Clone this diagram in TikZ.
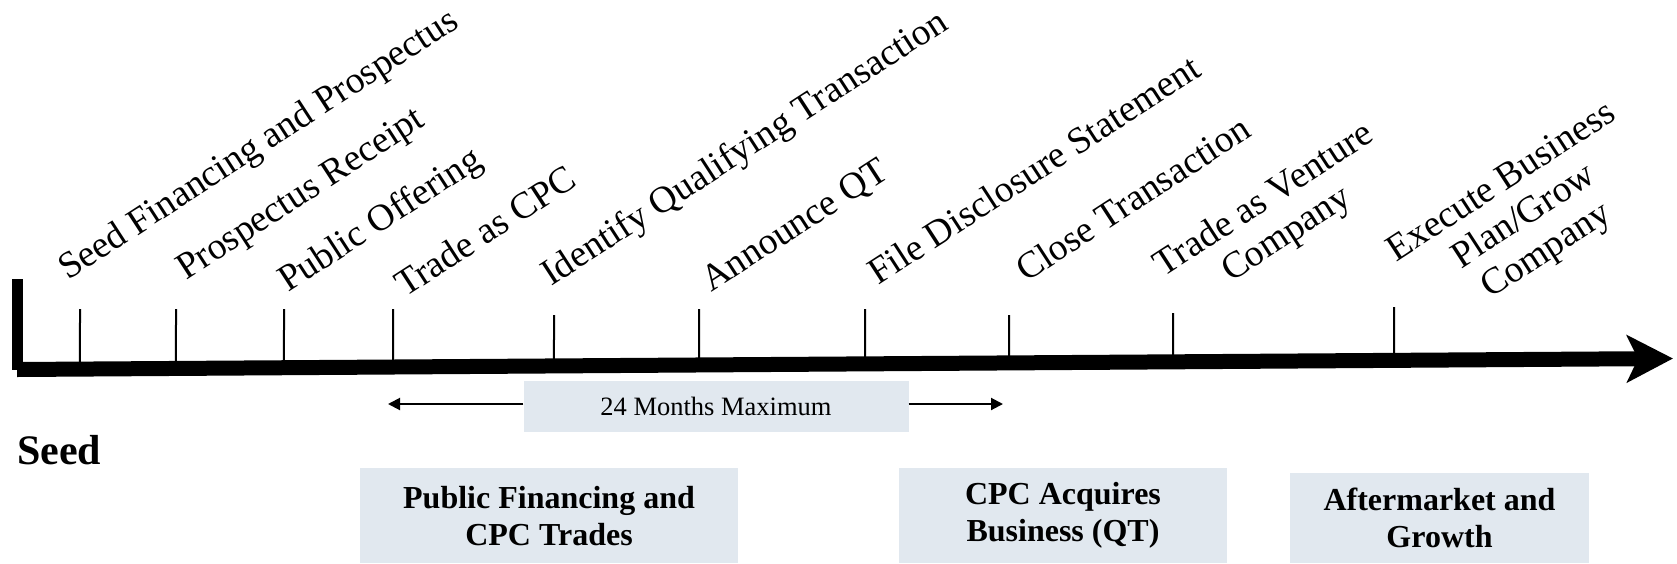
\documentclass[tikz,border=0pt]{standalone}
\usepackage{fontspec}
\setmainfont{Liberation Serif}
\usetikzlibrary{arrows.meta,calc}
\definecolor{boxgray}{RGB}{225,232,239}
\tikzset{
  milestone/.style={anchor=base west, rotate=33, inner sep=0pt, align=center,
    font=\fontsize{37.5}{41}\selectfont},
  tickmark/.style={line width=2pt},
  phasebox/.style={fill=boxgray, inner sep=0pt, align=center, anchor=north,
    font=\bfseries\fontsize{32}{37}\selectfont},
}

\begin{document}
\begin{tikzpicture}[x=1pt, y=-1pt]
\useasboundingbox (0,0) rectangle (1677,563);

% timeline
\coordinate (axstart) at (17,369.5);
\coordinate (axend) at (1673,358.5);
\draw[line width=11pt] (17.5,279) -- (17.5,370);
\draw[line width=15pt, -{Stealth[length=46pt, width=47pt, inset=11pt]}] (axstart) -- (axend);
\foreach \x/\top in {80/309, 176/309, 284/309, 393/309, 554/315, 699/309, 865/309, 1009/315, 1173/313, 1394/307}
  \draw[tickmark] (\x,\top) -- ($(axstart)!{(\x-17)/1656}!(axend)$);

% milestones (multi-line ones sit on their last line)
\node[milestone] (seedfin) at (68,281) {Seed Financing and Prospectus};
\node[milestone] (receipt) at (186,281) {Prospectus Receipt};
\node[milestone] (offering) at (288,293) {Public Offering};
\node[milestone] (tradecpc) at (405,298) {Trade as CPC};
\node[milestone] (identify) at (551,287) {Identify Qualifying Transaction};
\node[milestone] (announce) at (711,293) {Announce QT};
\node[milestone] (disclose) at (878,286) {File Disclosure Statement};
\node[milestone] (close) at (1026,283) {Close Transaction};
\node[milestone] (venture) at (1186,312) {Trade as Venture\\Company};
\node[milestone] (execute) at (1441,331) {Execute Business\\Plan/Grow\\Company};

% 24 months window
\node[fill=boxgray, minimum width=385pt, minimum height=51pt, inner sep=0pt,
  font=\fontsize{26.5}{30}\selectfont] (months) at (716,406) {24 Months Maximum};
\coordinate (ltip) at (388,404);
\coordinate (rtip) at (1003,404);
\draw[line width=2pt, -{Triangle[length=12pt, width=12pt]}] (months.west |- ltip) -- (ltip);
\draw[line width=2pt, -{Triangle[length=12pt, width=12pt]}] (months.east |- rtip) -- (rtip);

% phases
\node[anchor=base west, inner sep=0pt, font=\bfseries\fontsize{42}{48}\selectfont] (seed) at (17,464) {Seed};
\node[phasebox, minimum width=378pt, minimum height=95pt] (pubfin) at (549,468) {Public Financing and\\CPC Trades};
\node[phasebox, minimum width=328pt, minimum height=95pt] (acquire) at (1063,468) {CPC Acquires\\Business (QT)};
\node[phasebox, minimum width=299pt, minimum height=90pt] (after) at (1439.5,473) {Aftermarket and\\Growth};
\end{tikzpicture}
\end{document}
